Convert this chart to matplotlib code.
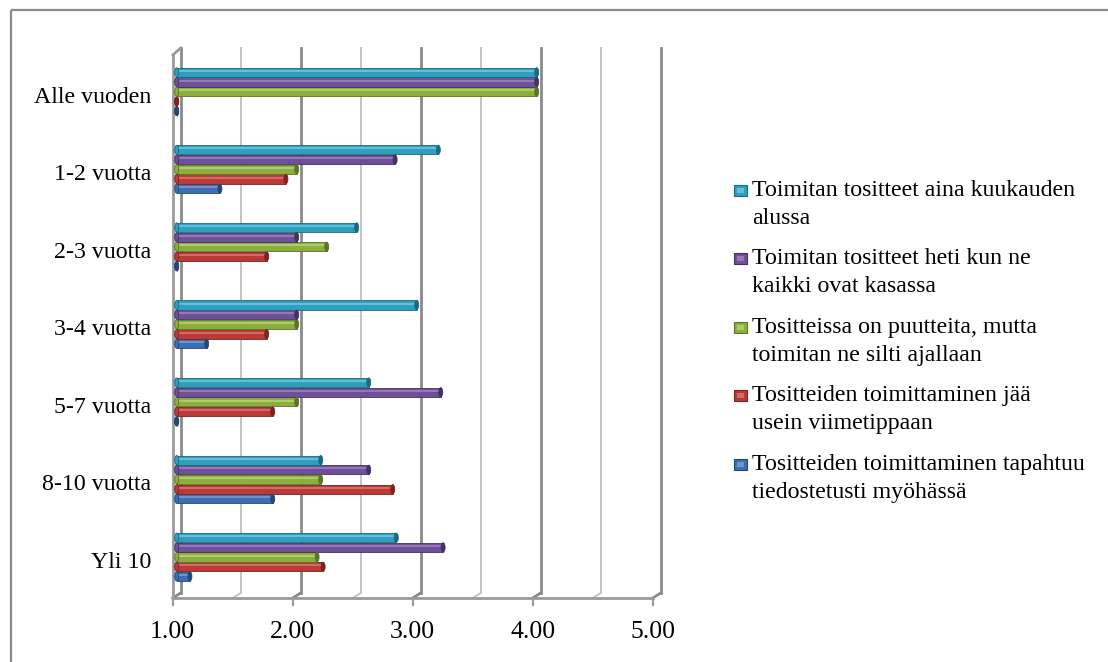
import matplotlib
matplotlib.use('Agg')
import matplotlib.pyplot as plt
from matplotlib.patches import Rectangle, Ellipse
import matplotlib.transforms as mtransforms

# ---------------- data ----------------
categories = ["Alle vuoden", "1-2 vuotta", "2-3 vuotta", "3-4 vuotta",
              "5-7 vuotta", "8-10 vuotta", "Yli 10"]

series_names = [
    "Tositteiden toimittaminen tapahtuu\ntiedostetusti myöhässä",
    "Tositteiden toimittaminen jää\nusein viimetippaan",
    "Tositteissa on puutteita, mutta\ntoimitan ne silti ajallaan",
    "Toimitan tositteet heti kun ne\nkaikki ovat kasassa",
    "Toimitan tositteet aina kuukauden\nalussa",
]
blue_vals = [1.00, 1.36, 1.00, 1.25, 1.00, 1.80, 1.11]
red_vals = [1.00, 1.91, 1.75, 1.75, 1.80, 2.80, 2.22]
green_vals = [4.00, 2.00, 2.25, 2.00, 2.00, 2.20, 2.17]
purple_vals = [4.00, 2.82, 2.00, 2.00, 3.20, 2.60, 3.22]
cyan_vals = [4.00, 3.18, 2.50, 3.00, 2.60, 2.20, 2.83]

tick_values = [1.0, 2.0, 3.0, 4.0, 5.0]
tick_labels = ["1.00", "2.00", "3.00", "4.00", "5.00"]
grid_values = [1.0, 1.5, 2.0, 2.5, 3.0, 3.5, 4.0, 4.5, 5.0]

all_series = [blue_vals, red_vals, green_vals, purple_vals, cyan_vals]
face_colors = ["#3b6eb2", "#b93a37", "#8cae3e", "#6f4f98", "#2f9fbd"]
edge_colors = ["#234876", "#7c2322", "#5b7527", "#45305f", "#1c6a7e"]
light_colors = ["#6d96cf", "#d66a66", "#afcc6a", "#9379b8", "#62c0d9"]

plt.rcParams['font.family'] = ['Liberation Serif', 'DejaVu Serif']

W, H = 1108, 662
fig = plt.figure(figsize=(W / 100, H / 100), dpi=100)

# pixel (top-left origin) transform for decorations
px = mtransforms.Affine2D().scale(1, -1).translate(0, H)

# outer frame (extends beyond the right / bottom edge)
fig.patches.append(Rectangle((11, 10), 1120, 700, transform=px, fill=False,
                             edgecolor="#8c8c8c", linewidth=1.6))

# bars axes (mid-depth plane)
ax_left, ax_top, ax_w, ax_h = 176.7, 50.5, 480.0, 545.0
ax = fig.add_axes([ax_left / W, (H - ax_top - ax_h) / H, ax_w / W, ax_h / H])
ax.set_xlim(1.0, 5.0)
ax.set_ylim(6.496, -0.531)
ax.axis('off')
ax.patch.set_alpha(0)

dx = 4.0 / 120.0          # depth offset in data x
dyf = 2.5 / ax_h           # depth offset in axes y
bt = ax.get_xaxis_transform()

# back wall gridlines
for v in grid_values:
    major = float(v).is_integer()
    col = "#8a8a8a" if major else "#c4c4c4"
    lw = 2.0 if major else 1.4
    ax.plot([v + dx, v + dx], [dyf, 1 + dyf], color=col, lw=lw, transform=bt,
            clip_on=False, zorder=1)
    ax.plot([v - dx, v + dx], [-dyf, dyf], color=col, lw=lw, transform=bt,
            clip_on=False, zorder=1)

# floor front line and ticks
ax.plot([1.0 - dx, 5.0 - dx], [-dyf, -dyf], color="#9a9a9a", lw=2.0,
        transform=bt, clip_on=False, zorder=1)
for v in tick_values:
    ax.plot([v - dx, v - dx], [-dyf, -dyf - 7 / ax_h], color="#9a9a9a", lw=1.6,
            transform=bt, clip_on=False, zorder=1)

# left wall
ax.plot([1.0 - dx, 1.0 - dx], [-dyf, (595.5 - 55) / ax_h], color="#9a9a9a",
        lw=2.0, transform=bt, clip_on=False, zorder=1)
ax.plot([1.0 - dx, 1.0 + dx], [(595.5 - 55) / ax_h, 1 + dyf], color="#9a9a9a",
        lw=2.0, transform=bt, clip_on=False, zorder=1)

# bars
step = 0.125
bh = 0.118
cap_w = 4.0 / 120.0
y_idx = list(range(len(categories)))
for k, vals in enumerate(all_series):
    ys = [i + (2 - k) * step for i in y_idx]
    widths = [v - 1.0 for v in vals]
    ax.barh(ys, widths, left=1.0, height=bh, color=face_colors[k],
            edgecolor=edge_colors[k], linewidth=0.6, zorder=3)
    ax.barh([y - bh * 0.15 for y in ys], widths, left=1.0, height=bh * 0.22,
            color=light_colors[k], linewidth=0, zorder=4)
    for y, v in zip(ys, vals):
        ax.add_patch(Ellipse((1.0, y), cap_w, bh, facecolor=face_colors[k],
                             edgecolor=edge_colors[k], lw=0.6, zorder=5,
                             clip_on=False))
        ax.add_patch(Ellipse((v, y), cap_w, bh, facecolor=edge_colors[k],
                             edgecolor=edge_colors[k], lw=0.6, zorder=5,
                             clip_on=False))

# x tick labels (front)
for v, lab in zip(tick_values, tick_labels):
    ax.text(v - dx, (595.5 - 638.3) / ax_h, lab, transform=bt, ha='center',
            va='baseline', fontsize=18.5, color='black')

# category labels
ct = mtransforms.blended_transform_factory(ax.transAxes, ax.transData)
for i, c in enumerate(categories):
    ax.text((151 - ax_left) / ax_w, i + 0.142, c, transform=ct, ha='right',
            va='baseline', fontsize=17.2, color='black')

# legend (reverse order: cyan first)
leg_base = [196, 264.5, 333, 401.5, 470]
line_gap = 28.0
for j, k in enumerate(range(len(all_series) - 1, -1, -1)):
    yb = leg_base[j]
    fig.patches.append(Rectangle((733.5, yb - 11.5), 13, 11, transform=px,
                                 facecolor=face_colors[k],
                                 edgecolor=edge_colors[k], linewidth=0.8))
    fig.patches.append(Rectangle((736.5, yb - 8.5), 7, 5, transform=px,
                                 facecolor=light_colors[k], linewidth=0))
    for n, line in enumerate(series_names[k].split("\n")):
        fig.text(751.7, yb + n * line_gap, line, transform=px, ha='left',
                 va='baseline', fontsize=17.2, color='black')

fig.savefig("out.png", dpi=100)
